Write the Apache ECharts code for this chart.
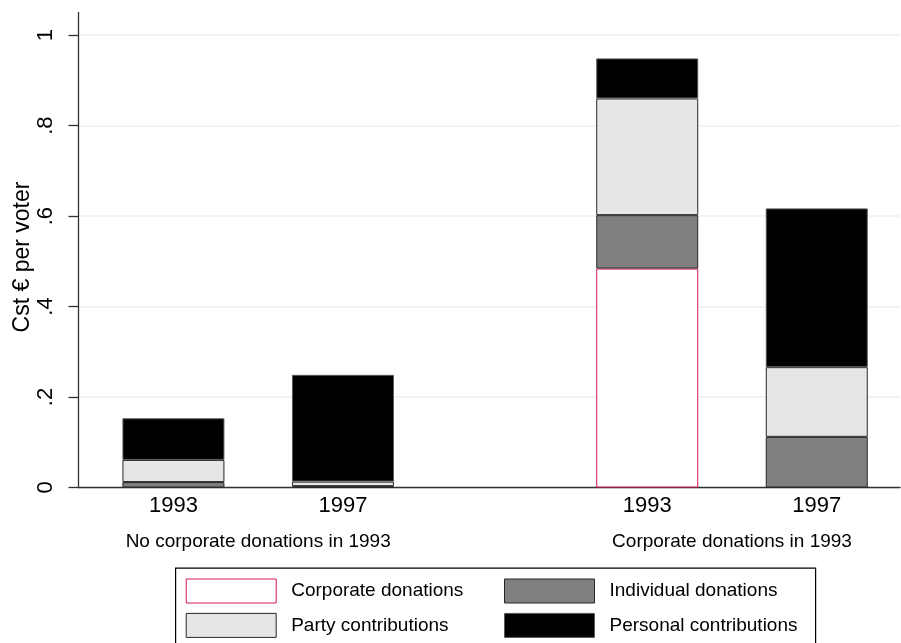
<!DOCTYPE html>
<html>
<head>
<meta charset="utf-8">
<script src="https://cdn.jsdelivr.net/npm/echarts@6/dist/echarts.min.js"></script>
<style>
  html, body { margin: 0; padding: 0; background: #fff; }
  #chart { width: 901px; height: 643px; }
</style>
</head>
<body>
<div id="chart"></div>
<script>
// bars, left to right
const years = ['1993', '1997', '1993', '1997']
const groupOf = [0, 0, 1, 1]
const groups = ['No corporate donations in 1993', 'Corporate donations in 1993']

// Cst € per voter, stacked bottom to top
const corporate = [null, null, 0.484, null]
const individual = [0.012, 0.003, 0.118, 0.112]
const party = [0.049, 0.010, 0.258, 0.154]
const personal = [0.092, 0.236, 0.0885, 0.351]

const yTicks = [0, 0.2, 0.4, 0.6, 0.8, 1]

// layout of bars on the hidden x scale (1 unit = distance between bars in a group)
const GROUP_GAP = 0.795
const pos = years.map((y, i) => i + groupOf[i] * GROUP_GAP)
const groupPos = groups.map((g, k) => {
  const p = pos.filter((v, i) => groupOf[i] === k)
  return (p[0] + p[p.length - 1]) / 2
})
const xMin = -0.56
const xMax = 4.286

const FONT = '"Liberation Sans", Arial, sans-serif'
const near = (a, b) => Math.abs(a - b) < 1e-6

// value first, position second, so the stack runs on y
function pairs(vals) {
  return vals.map((v, i) => [v == null ? '-' : v, pos[i]])
}

function barSeries(name, vals, fill, border) {
  return {
    name: name,
    type: 'bar',
    stack: 'total',
    barWidth: 102,
    encode: { x: 1, y: 0 },
    data: pairs(vals),
    itemStyle: { color: fill, borderColor: border, borderWidth: 1 },
    emphasis: { disabled: true },
    animation: false
  }
}

const legendBase = {
  orient: 'vertical',
  top: 578.5,
  padding: 0,
  itemWidth: 90, itemHeight: 24, itemGap: 9.4,
  icon: 'rect',
  selectedMode: false,
  textStyle: { fontFamily: FONT, fontSize: 19, color: '#000', padding: [0, 0, 0, 10] },
  itemStyle: { borderWidth: 1 }
}

const chart = echarts.init(document.getElementById('chart'), null, { renderer: 'canvas' })

const option = {
  backgroundColor: '#fff',
  animation: false,
  textStyle: { fontFamily: FONT },
  grid: {
    left: 78.5, right: 1, top: 12.5, bottom: 155.5,
    containLabel: false, outerBoundsMode: 'none'
  },
  graphic: [{
    type: 'rect', left: 175, top: 567.5, z: -1,
    shape: { width: 640, height: 90 },
    style: { fill: '#fff', stroke: '#000', lineWidth: 1.2 }
  }],
  legend: [
    Object.assign({}, legendBase, { left: 185.7, data: ['Corporate donations', 'Party contributions'] }),
    Object.assign({}, legendBase, { left: 504, data: ['Individual donations', 'Personal contributions'] })
  ],
  xAxis: [
    {
      type: 'value', position: 'bottom', min: xMin, max: xMax,
      axisLine: { show: true, onZero: false, lineStyle: { color: '#333', width: 1.3 } },
      axisTick: { show: false },
      splitLine: { show: false },
      axisLabel: {
        customValues: pos,
        formatter: v => { const i = pos.findIndex(p => near(p, v)); return i < 0 ? '' : years[i] },
        fontFamily: FONT, fontSize: 22, color: '#000', margin: 7
      }
    },
    {
      type: 'value', position: 'bottom', min: xMin, max: xMax,
      axisLine: { show: false },
      axisTick: { show: false },
      splitLine: { show: false },
      axisLabel: {
        customValues: groupPos,
        formatter: v => { const k = groupPos.findIndex(p => near(p, v)); return k < 0 ? '' : groups[k] },
        fontFamily: FONT, fontSize: 19, color: '#000', margin: 45
      }
    }
  ],
  yAxis: {
    type: 'value', min: 0, max: 1.05,
    name: 'Cst € per voter',
    nameLocation: 'middle', nameRotate: 90, nameGap: 44,
    nameMoveOverlap: false,
    nameTextStyle: { fontFamily: FONT, fontSize: 23, color: '#000', padding: [0, 14, 0, 0] },
    axisLine: { show: true, onZero: false, lineStyle: { color: '#333', width: 1.3 } },
    axisTick: { show: true, inside: false, length: 10, customValues: yTicks, lineStyle: { color: '#333', width: 1.3 } },
    splitLine: { show: true, lineStyle: { color: '#eaf2f3', width: 1.5 } },
    axisLabel: {
      customValues: yTicks,
      rotate: 90,
      margin: 22,
      fontFamily: FONT, fontSize: 22, color: '#000',
      formatter: v => (v === 0 || v === 1) ? String(v) : String(v).replace(/^0\./, '.')
    }
  },
  series: [
    barSeries('Corporate donations', corporate, '#ffffff', '#d6184f'),
    barSeries('Individual donations', individual, '#808080', '#262626'),
    barSeries('Party contributions', party, '#e6e6e6', '#262626'),
    barSeries('Personal contributions', personal, '#000000', '#5a5a5a')
  ]
}

chart.setOption(option)
</script>
</body>
</html>
